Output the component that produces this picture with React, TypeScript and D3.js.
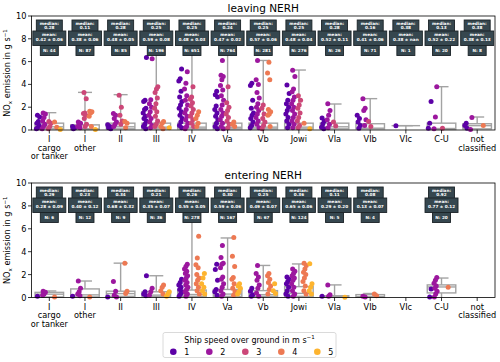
import React from 'react';
import * as d3 from 'd3';

const categories = ['I\ncargo\nor tanker', 'I\nother', 'II', 'III', 'IV', 'Va', 'Vb', 'Jowi', 'VIa', 'VIb', 'VIc', 'C-U', 'not\nclassified'];
const speedLabels = ['1', '2', '3', '4', '5'];
const yTicks = [0, 2, 4, 6, 8, 10];

// leaving NERH: visible points per category, one array per speed class
const leavingSpeed1 = [
  [1.3, 1.15, 0.75, 0.6, 0.4, 0.2, 0.1], [0.3, 0.2, 0.1], [0.45, 0.3, 0.2, 0.1],
  [6.35, 2.6, 2.5, 1.9, 1.8, 1.5, 1.2, 1.0, 0.8, 0.5, 0.3, 0.1],
  [5.35, 4.5, 4.3, 3.4, 2.9, 2.5, 2.2, 1.9, 1.6, 1.3, 1.0, 0.7, 0.4, 0.2],
  [3.4, 3.1, 2.9, 2.1, 1.8, 1.5, 1.2, 0.9, 0.6, 0.3, 0.1],
  [4.1, 3.9, 2.6, 1.9, 1.5, 1.3, 1.0, 0.7, 0.4, 0.2],
  [3.95, 3.2, 2.6, 2.3, 2.0, 1.7, 1.4, 1.1, 0.8, 0.5, 0.2],
  [1.05, 0.8, 0.55, 0.25, 0.1], [1.3, 1.0, 0.7, 0.4, 0.15], [0.38], [2.5, 0.6, 0.15], [0.6, 0.4, 0.15],
];
const leavingSpeed2 = [
  [1.5, 1.4, 1.1, 0.8, 0.5, 0.3, 0.1], [0.7, 0.6, 0.4, 0.3, 0.2], [1.45, 1.3, 1.0, 0.7, 0.5, 0.3],
  [6.25, 2.65, 2.3, 2.0, 1.6, 1.3, 1.0, 0.7, 0.4, 0.2],
  [5.1, 4.1, 3.6, 3.0, 2.6, 2.2, 1.8, 1.5, 1.2, 0.9, 0.6, 0.3, 0.1],
  [6.1, 4.8, 4.7, 4.4, 3.9, 3.5, 3.0, 2.6, 2.2, 1.8, 1.5, 1.2, 0.9, 0.6, 0.3, 0.1],
  [6.1, 4.4, 4.0, 3.3, 2.8, 2.3, 2.0, 1.7, 1.4, 1.1, 0.8, 0.5, 0.2],
  [5.25, 4.7, 3.6, 3.35, 2.9, 2.6, 2.3, 2.0, 1.7, 1.4, 1.1, 0.8, 0.5, 0.2],
  [2.3, 1.7, 1.3, 0.9, 0.5, 0.2], [2.75, 1.9, 1.7, 0.9, 0.4], [], [3.8, 1.15, 0.1], [1.1, 0.05],
];
const leavingSpeed3 = [
  [0.75, 0.6, 0.3, 0.1], [3.3, 2.75, 1.5, 1.45, 1.3, 1.0, 0.5, 0.3], [3.05, 2.0, 1.3, 0.8, 0.5],
  [3.8, 3.6, 3.3, 2.8, 2.3, 1.9, 1.6, 1.2, 0.8, 0.5, 0.3],
  [3.8, 2.9, 2.7, 2.4, 2.1, 1.8, 1.5, 1.2, 0.9, 0.6, 0.3],
  [3.8, 2.4, 2.0, 1.7, 1.4, 1.1, 0.8, 0.5, 0.2],
  [2.2, 1.9, 1.4, 1.0, 0.7, 0.4, 0.1],
  [3.0, 2.6, 2.2, 1.9, 1.5, 1.1, 0.8, 0.4, 0.2],
  [0.7, 0.35], [0.75, 0.3], [], [0.15], [],
];
const leavingSpeed4 = [
  [0.7, 0.25], [1.65, 1.6, 1.5, 1.2, 0.3], [0.75, 0.6, 0.2], [0.75, 0.6, 0.3, 0.1],
  [1.6, 1.3, 1.0, 0.6, 0.3], [0.7, 0.5, 0.3], [5.95, 5.0, 4.4, 1.8, 1.6, 1.4, 1.3, 0.3], [0.6],
  [], [], [], [], [0.4],
];
const leavingSpeed5 = [[0.05], [0.05], [], [0.2], [], [], [], [0.1], [], [], [], [], []];

const leavingQ1 = [0.1, 0.05, 0.1, 0.1, 0.1, 0.1, 0.1, 0.1, 0.1, 0.1, 0.38, 0.05, 0.1];
const leavingMedian = [0.28, 0.11, 0.28, 0.25, 0.25, 0.24, 0.25, 0.25, 0.28, 0.16, 0.38, 0.13, 0.38];
const leavingQ3 = [0.6, 0.45, 0.6, 0.6, 0.6, 0.6, 0.6, 0.6, 0.6, 0.55, 0.38, 0.6, 0.55];
const leavingWhisker = [1.52, 3.3, 3.1, 7.0, 7.0, 7.0, 6.1, 5.26, 2.28, 2.75, 0.38, 3.8, 1.14];
const leavingMean = [0.42, 0.38, 0.48, 0.59, 0.48, 0.47, 0.57, 0.48, 0.52, 0.41, 0.38, 0.52, 0.38];
const leavingErr = [0.06, 0.06, 0.05, 0.08, 0.03, 0.02, 0.06, 0.04, 0.11, 0.06, NaN, 0.22, 0.13];
const leavingN = [44, 87, 85, 196, 651, 764, 281, 276, 26, 71, 1, 20, 8];

// entering NERH
const enteringSpeed1 = [
  [0.1], [0.1], [0.05], [1.9, 0.5, 0.3, 0.15],
  [1.6, 1.3, 1.1, 0.9, 0.7, 0.5, 0.3, 0.1],
  [2.9, 2.45, 1.5, 0.7, 0.5, 0.2],
  [0.8, 0.55, 0.25, 0.1],
  [1.8, 1.6, 1.4, 1.2, 0.9, 0.6, 0.3, 0.1],
  [0.1], [], [], [0.75, 0.05], [],
];
const enteringSpeed2 = [
  [0.55, 0.45, 0.3, 0.2], [1.45, 0.8, 0.5, 0.3, 0.15], [1.4, 0.55, 0.2, 0.05], [0.8, 0.5, 0.2],
  [2.9, 2.7, 2.5, 2.3, 2.1, 1.9, 1.7, 1.5, 1.3, 1.1, 0.9, 0.7, 0.5, 0.3, 0.1],
  [4.55, 3.5, 3.0, 2.9, 2.6, 1.8, 1.6, 1.2, 0.9, 0.6, 0.3, 0.1],
  [2.8, 2.1, 1.8, 1.5, 1.1, 0.8, 0.4, 0.1],
  [2.5, 2.3, 2.1, 1.9, 1.7, 1.5, 1.2, 0.9, 0.6, 0.3, 0.1],
  [1.1, 0.25, 0.1], [0.1, 0.05], [], [1.75, 1.5, 1.25, 1.0, 0.8, 0.55, 0.3, 0.05], [],
];
const enteringSpeed3 = [[], [], [], [], [], [], [], [], [], [], [], [], []];
const enteringSpeed4 = [
  [0.05], [0.05], [3.0, 0.55, 0.35], [1.1, 0.9, 0.6, 0.3],
  [5.35, 3.45, 2.85, 2.6, 2.0, 1.7, 1.5, 1.2, 0.9, 0.6, 0.3],
  [5.25, 3.6, 2.7, 1.75, 1.6, 1.2, 0.8, 0.5, 0.2],
  [2.1, 1.9, 1.6, 1.3, 1.0, 0.7, 0.3],
  [3.0, 2.8, 2.5, 2.2, 2.0, 1.7, 1.4, 1.0, 0.6, 0.3],
  [], [0.3, 0.15], [], [0.9], [],
];
const enteringSpeed5 = [
  [], [], [], [0.5, 0.3, 0.1], [2.1, 1.7, 1.2, 0.9, 0.6, 0.3], [1.2, 1.0, 0.8, 0.5, 0.3],
  [1.2, 0.6, 0.35], [2.95, 1.2, 0.9, 0.6, 0.3], [0.03], [], [], [], [],
];

const enteringQ1 = [0.05, 0.05, 0.1, 0.1, 0.1, 0.1, 0.1, 0.1, 0.02, 0.03, null, 0.4, null];
const enteringMedian = [0.29, 0.23, 0.34, 0.21, 0.26, 0.30, 0.25, 0.36, 0.11, 0.08, null, 0.92, null];
const enteringQ3 = [0.45, 0.75, 0.55, 0.5, 0.65, 0.7, 0.6, 0.95, 0.15, 0.25, null, 1.1, null];
const enteringWhisker = [0.57, 1.44, 3.0, 1.9, 7.0, 5.2, 2.8, 2.93, 1.1, 0.35, null, 1.7, null];
const enteringMean = [0.28, 0.40, 0.68, 0.35, 0.55, 0.59, 0.49, 0.65, 0.29, 0.13, null, 0.77, null];
const enteringErr = [0.09, 0.12, 0.32, 0.07, 0.05, 0.06, 0.07, 0.06, 0.20, 0.07, null, 0.12, null];
const enteringN = [6, 12, 9, 36, 278, 167, 67, 124, 5, 4, null, 20, null];

const font = 'DejaVu Sans, sans-serif';
const left = 31.5, right = 495;
const speedColors = speedLabels.map((_, i) => d3.interpolatePlasma((i + 1) / 6));
const x = d3.scaleBand<number>().domain(d3.range(categories.length)).range([left, right]);
const bw = x.bandwidth();
const dodge = (bw * 0.8) / 5;
const f2 = d3.format('.2f');
const jitter = (i: number) => (((i * 0.618034 + 0.37) % 1) - 0.5) * 3.6;
const boxColor = '#a3a3a3';
const annFill = '#36474f';

function Panel(props: any) {
  const { title, top, bottom, speeds, q1, med, q3, whisk, mean, err, n } = props;
  const y = d3.scaleLinear().domain([0, 10]).range([bottom, top]);
  const cx = (i: number) => (x(i) as number) + bw / 2;

  return (
    <g>
      <text x={(left + right) / 2} y={top - 4} fontSize={10.5} textAnchor="middle" fontFamily={font}>{title}</text>

      {/* box plots */}
      {categories.map((_, i) => {
        if (med[i] == null) return null;
        const c = cx(i), hw = bw * 0.4;
        return (
          <g key={'b' + i} stroke={boxColor} strokeWidth={1.4}>
            <line x1={c} x2={c} y1={y(q3[i])} y2={y(whisk[i])} />
            <line x1={c} x2={c} y1={y(q1[i])} y2={y(0)} />
            <line x1={c - 7} x2={c + 7} y1={y(whisk[i])} y2={y(whisk[i])} />
            <rect x={c - hw} y={y(q3[i])} width={hw * 2} height={Math.max(0, y(q1[i]) - y(q3[i]))} fill="white" />
            <line x1={c - hw} x2={c + hw} y1={y(med[i])} y2={y(med[i])} />
          </g>
        );
      })}

      {/* strip points */}
      {speeds.map((s: number[][], k: number) =>
        s.map((vals, i) =>
          vals.map((v, j) => (
            <circle key={`p${k}-${i}-${j}`} cx={cx(i) + (k - 2) * dodge + jitter(j + i * 3)} cy={y(v)} r={2.5} fill={speedColors[k]} />
          ))
        )
      )}

      {/* frame */}
      <rect x={left} y={top} width={right - left} height={bottom - top} fill="none" stroke="#000" strokeWidth={0.8} />

      {/* y axis */}
      {yTicks.map(t => (
        <g key={'y' + t}>
          <line x1={left - 3.5} x2={left} y1={y(t)} y2={y(t)} stroke="#000" strokeWidth={0.8} />
          <text x={left - 5} y={y(t) + 3} fontSize={8.2} textAnchor="end" fontFamily={font}>{t}</text>
        </g>
      ))}
      <text transform={`translate(10,${(top + bottom) / 2}) rotate(-90)`} fontSize={8.2} textAnchor="middle" fontFamily={font}>
        NO<tspan fontSize={5.5} dy={2}>x</tspan><tspan dy={-2}> emission in g s</tspan><tspan fontSize={5.5} dy={-3.5}>−1</tspan>
      </text>

      {/* x axis */}
      {categories.map((c, i) => (
        <g key={'x' + i}>
          <line x1={cx(i)} x2={cx(i)} y1={bottom} y2={bottom + 3.5} stroke="#000" strokeWidth={0.8} />
          <text textAnchor="middle" fontSize={8.2} fontFamily={font}>
            {c.split('\n').map((l, li) => (
              <tspan key={li} x={cx(i)} y={bottom + 12 + li * 8.6}>{l}</tspan>
            ))}
          </text>
        </g>
      ))}

      {/* annotation boxes */}
      {categories.map((_, i) => {
        if (n[i] == null) return null;
        const c = cx(i);
        const e = Number.isNaN(err[i]) ? ' nan' : ' ' + f2(err[i]);
        return (
          <g key={'a' + i} fontFamily={font} fontSize={4.2} fontWeight="bold" fill="white" textAnchor="middle">
            <rect x={c - 13} y={top + 4} width={26} height={11.5} fill={annFill} stroke="#1b2327" strokeWidth={0.9} />
            <rect x={c - 9} y={top + 29} width={18} height={10.5} fill={annFill} stroke="#1b2327" strokeWidth={0.9} />
            <rect x={c - 16.5} y={top + 15} width={33} height={14.5} fill={annFill} stroke="#1b2327" strokeWidth={0.9} />
            <text x={c} y={top + 8.7}>median:</text>
            <text x={c} y={top + 13}>{f2(med[i])}</text>
            <text x={c} y={top + 20.2}>mean:</text>
            <text x={c} y={top + 25.4}>{f2(mean[i]) + ' ±' + e}</text>
            <text x={c} y={top + 35.8}>N: {n[i]}</text>
          </g>
        );
      })}
    </g>
  );
}

export default function App() {
  return (
    <svg width={500} height={362} style={{ position: 'absolute', left: 0, top: 0, background: 'white' }}>
      <Panel title="leaving NERH" top={16} bottom={130}
        speeds={[leavingSpeed1, leavingSpeed2, leavingSpeed3, leavingSpeed4, leavingSpeed5]}
        q1={leavingQ1} med={leavingMedian} q3={leavingQ3} whisk={leavingWhisker}
        mean={leavingMean} err={leavingErr} n={leavingN} />
      <Panel title="entering NERH" top={183} bottom={297.5}
        speeds={[enteringSpeed1, enteringSpeed2, enteringSpeed3, enteringSpeed4, enteringSpeed5]}
        q1={enteringQ1} med={enteringMedian} q3={enteringQ3} whisk={enteringWhisker}
        mean={enteringMean} err={enteringErr} n={enteringN} />

      {/* legend */}
      <g fontFamily={font} fontSize={8}>
        <rect x={163} y={332.5} width={173} height={25} rx={2} fill="white" stroke="#d0d0d0" strokeWidth={0.8} />
        <text x={249.5} y={342.5} textAnchor="middle">
          Ship speed over ground in m s<tspan fontSize={5.5} dy={-3.5}>−1</tspan>
        </text>
        {speedLabels.map((s, i) => (
          <g key={s}>
            <circle cx={173.3 + i * 36} cy={351.7} r={3.3} fill={speedColors[i]} />
            <text x={173.3 + i * 36 + 11} y={354.5}>{s}</text>
          </g>
        ))}
      </g>
    </svg>
  );
}
